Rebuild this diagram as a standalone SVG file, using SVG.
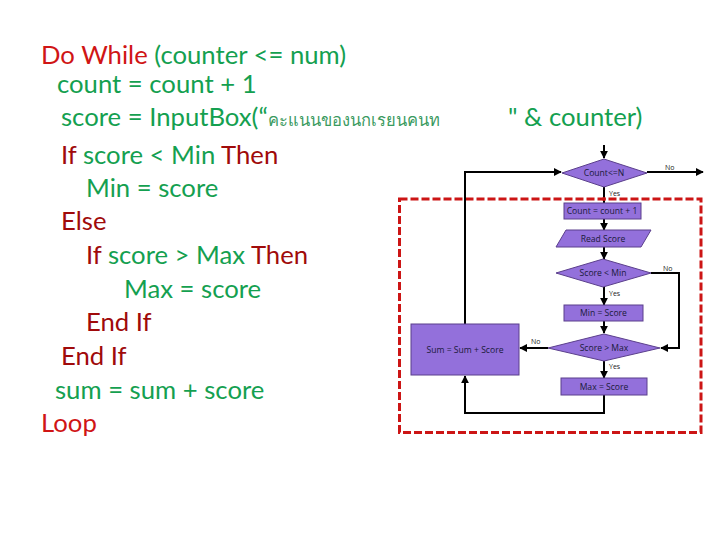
<svg xmlns="http://www.w3.org/2000/svg" width="720" height="540" viewBox="0 0 720 540">
<style>
.code{font-family:Lato,"Open Sans",sans-serif;font-size:25.7px}
.g{fill:#14A050}
.r{fill:#A00A0A}
.rb{fill:#D01515}
.th{font-family:"Noto Sans","DejaVu Sans",sans-serif;font-size:16.5px;fill:#3A9A60}
.sh{fill:#9370DB;stroke:#5B3F8C;stroke-width:1}
.lbl{font-family:"Open Sans","DejaVu Sans",sans-serif;font-size:8.6px;fill:#1A1A3A;text-anchor:middle;dominant-baseline:central}
.yn{font-family:"Open Sans","DejaVu Sans",sans-serif;font-size:7px;fill:#222}
.ln{fill:none;stroke:#000;stroke-width:2}
</style>
<defs>
<marker id="ah" viewBox="0 0 10 10" refX="9" refY="5" markerWidth="4" markerHeight="4" orient="auto" markerUnits="strokeWidth">
<path d="M0,0 L10,5 L0,10 z" fill="#000"/>
</marker>
</defs>
<rect width="720" height="540" fill="#fff"/>
<g id="code">
<text class="code" x="41" y="64"><tspan class="rb">Do While</tspan><tspan class="g"> (counter &lt;= num)</tspan></text>
<text class="code g" x="57" y="93">count = count + 1</text>
<text class="code g" x="61" y="126">score = InputBox(“<tspan class="th">คะแนนของนกเรยนคนท</tspan></text>
<text class="code g" x="508" y="126">" &amp; counter)</text>
<text class="code" x="61" y="164"><tspan class="r">If</tspan><tspan class="g"> score &lt; Min </tspan><tspan class="r">Then</tspan></text>
<text class="code g" x="86" y="197">Min = score</text>
<text class="code r" x="61" y="230">Else</text>
<text class="code" x="86" y="264"><tspan class="r">If</tspan><tspan class="g"> score &gt; Max </tspan><tspan class="r">Then</tspan></text>
<text class="code g" x="124" y="298">Max = score</text>
<text class="code r" x="86" y="331">End If</text>
<text class="code r" x="61" y="365">End If</text>
<text class="code g" x="55" y="399">sum = sum + score</text>
<text class="code rb" x="41" y="432">Loop</text>
</g>
<rect x="399.5" y="199" width="301.5" height="233.5" fill="none" stroke="#CC1515" stroke-width="3" stroke-dasharray="8,3"/>
<g id="connectors">
<line class="ln" x1="604" y1="145" x2="604" y2="158" marker-end="url(#ah)"/>
<line class="ln" x1="647" y1="172" x2="703" y2="172" marker-end="url(#ah)"/>
<polyline class="ln" points="465,324 465,172 561,172" marker-end="url(#ah)"/>
<line class="ln" x1="604" y1="187" x2="604" y2="203"/>
<circle cx="604" cy="199" r="2" fill="#CC1515"/>
<line class="ln" x1="604" y1="219" x2="604" y2="230" marker-end="url(#ah)"/>
<line class="ln" x1="604" y1="247" x2="604" y2="259" marker-end="url(#ah)"/>
<polyline class="ln" points="651,273 679,273 679,348 661,348" marker-end="url(#ah)"/>
<line class="ln" x1="604" y1="287" x2="604" y2="305" marker-end="url(#ah)"/>
<line class="ln" x1="604" y1="321" x2="604" y2="333" marker-end="url(#ah)"/>
<line class="ln" x1="548" y1="348" x2="520" y2="348" marker-end="url(#ah)"/>
<line class="ln" x1="604" y1="361" x2="604" y2="378" marker-end="url(#ah)"/>
<polyline class="ln" points="604,395 604,413 465,413 465,376" marker-end="url(#ah)"/>
<text class="yn" x="665" y="170">No</text>
<text class="yn" x="609" y="196">Yes</text>
<text class="yn" x="663" y="271">No</text>
<text class="yn" x="609" y="296">Yes</text>
<text class="yn" x="531" y="344">No</text>
<text class="yn" x="609" y="369">Yes</text>
</g>
<g id="n_cond">
<polygon class="sh" points="604,159 647,173 604,187 562,173"/>
<text class="lbl" x="604" y="173">Count&lt;=N</text>
</g>
<g id="n_count">
<rect class="sh" x="564" y="203" width="77" height="16"/>
<text class="lbl" x="602" y="211">Count = count + 1</text>
</g>
<g id="n_read">
<polygon class="sh" points="566,230 651,230 641,247 556,247"/>
<text class="lbl" x="603" y="238.5">Read Score</text>
</g>
<g id="n_min_cond">
<polygon class="sh" points="603,259 651,273 603,287 556,273"/>
<text class="lbl" x="603" y="273">Score &lt; Min</text>
</g>
<g id="n_min">
<rect class="sh" x="564" y="305" width="79" height="16"/>
<text class="lbl" x="603.5" y="313">Min = Score</text>
</g>
<g id="n_max_cond">
<polygon class="sh" points="604,334 660,348 604,361 548,348"/>
<text class="lbl" x="604" y="347.5">Score &gt; Max</text>
</g>
<g id="n_sum">
<rect class="sh" x="411" y="324" width="108" height="51"/>
<text class="lbl" x="465" y="350">Sum = Sum + Score</text>
</g>
<g id="n_max">
<rect class="sh" x="561" y="378" width="86" height="17"/>
<text class="lbl" x="604" y="386.5">Max = Score</text>
</g>
</svg>
